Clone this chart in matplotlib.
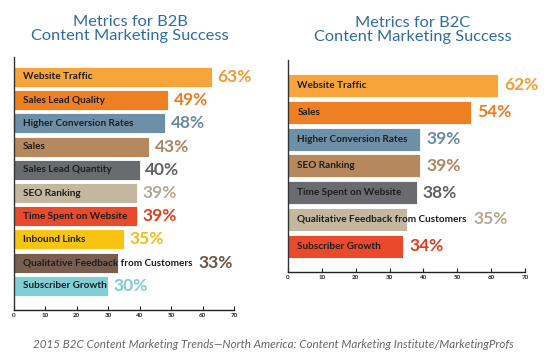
import matplotlib
matplotlib.use("Agg")
import matplotlib.pyplot as plt

b2b_labels = ["Website Traffic", "Sales Lead Quality", "Higher Conversion Rates", "Sales",
              "Sales Lead Quantity", "SEO Ranking", "Time Spent on Website", "Inbound Links",
              "Qualitative Feedback from Customers", "Subscriber Growth"]
b2b_values = [63, 49, 48, 43, 40, 39, 39, 35, 33, 30]
b2b_colors = ["#F7A43B", "#EE7F22", "#6D8FA8", "#B5885E", "#6A6B6E",
              "#C4B79F", "#E84A2B", "#F7C411", "#7A5F50", "#80CFD5"]
b2b_text_colors = ["#F29A33", "#EC7A1E", "#6A8BA3", "#B0845A", "#5F6064",
                   "#B4A78E", "#D9401F", "#EDBE1A", "#6C5446", "#7CCACF"]

b2c_labels = ["Website Traffic", "Sales", "Higher Conversion Rates", "SEO Ranking",
              "Time Spent on Website", "Qualitative Feedback from Customers", "Subscriber Growth"]
b2c_values = [62, 54, 39, 39, 38, 35, 34]
b2c_colors = ["#F7A43B", "#EE7F22", "#6D8FA8", "#B5885E", "#6A6B6E", "#C4B79F", "#E84A2B"]
b2c_text_colors = ["#F29A33", "#EC7A1E", "#6A8BA3", "#B0845A", "#5F6064", "#B4A78E", "#D9401F"]

x_ticks = [0, 10, 20, 30, 40, 50, 60, 70]

titles = ["Metrics for B2B\nContent Marketing Success", "Metrics for B2C\nContent Marketing Success"]
footer = "2015 B2C Content Marketing Trends\u2014North America: Content Marketing Institute/MarketingProfs"

W, H = 550, 358
fig = plt.figure(figsize=(5.5, 3.58), dpi=100)
FONT = "Lato"


def px_axes(x0, x1, y_top, y_bot):
    return fig.add_axes([x0 / W, 1 - y_bot / H, (x1 - x0) / W, (y_bot - y_top) / H])


def draw_panel(ax, labels, values, colors, tcolors, ylim, bar_h):
    n = len(labels)
    ypos = list(range(n))
    ax.barh(ypos, values, height=bar_h, color=colors, edgecolor="white", linewidth=0.6)
    ax.set_xlim(0, 70)
    ax.set_ylim(*ylim)
    ax.set_xticks(x_ticks)
    ax.set_xticklabels([str(t) for t in x_ticks], fontsize=4.5, family=FONT,
                       color="#222", fontweight="bold")
    ax.set_yticks([])
    ax.tick_params(axis="x", direction="in", length=3, width=0.8, pad=2, color="#222")
    for s in ["top", "right"]:
        ax.spines[s].set_visible(False)
    ax.spines["left"].set_color("#333")
    ax.spines["bottom"].set_color("#222")
    ax.spines["left"].set_linewidth(1.0)
    ax.spines["bottom"].set_linewidth(1.0)
    texts = []
    for i, lab in enumerate(labels):
        t = ax.text(2.8, i, lab, fontsize=7.2, family=FONT, color="#1e1e1e",
                    va="center", ha="left", fontweight="bold")
        texts.append(t)
    fig.canvas.draw()
    r = fig.canvas.get_renderer()
    inv = ax.transData.inverted()
    for i, v in enumerate(values):
        bb = texts[i].get_window_extent(r)
        text_end = inv.transform((bb.x1, 0))[0]
        xpos = max(v, text_end) + 1.8
        ax.text(xpos, i, f"{v}%", fontsize=12.5, family=FONT, fontweight="bold",
                color=tcolors[i], va="center", ha="left")


ax1 = px_axes(14, 234, 57, 310)
draw_panel(ax1, b2b_labels, b2b_values, b2b_colors, b2b_text_colors, (10.04, -0.86), 0.86)

ax2 = px_axes(288, 525, 60, 272)
draw_panel(ax2, b2c_labels, b2c_values, b2c_colors, b2c_text_colors, (6.96, -0.95), 0.86)

fig.text(130 / W, 1 - 29 / H, titles[0], ha="center", va="center", fontsize=11.8,
         family=FONT, color="#2F6CA3", linespacing=1.0)
fig.text(413 / W, 1 - 30 / H, titles[1], ha="center", va="center", fontsize=11.8,
         family=FONT, color="#2F6CA3", linespacing=1.0)
fig.text(273 / W, 1 - 345 / H, footer, ha="center", va="center", fontsize=8.4,
         family=FONT, style="italic", color="#666666")

fig.savefig("out.png", dpi=100)
